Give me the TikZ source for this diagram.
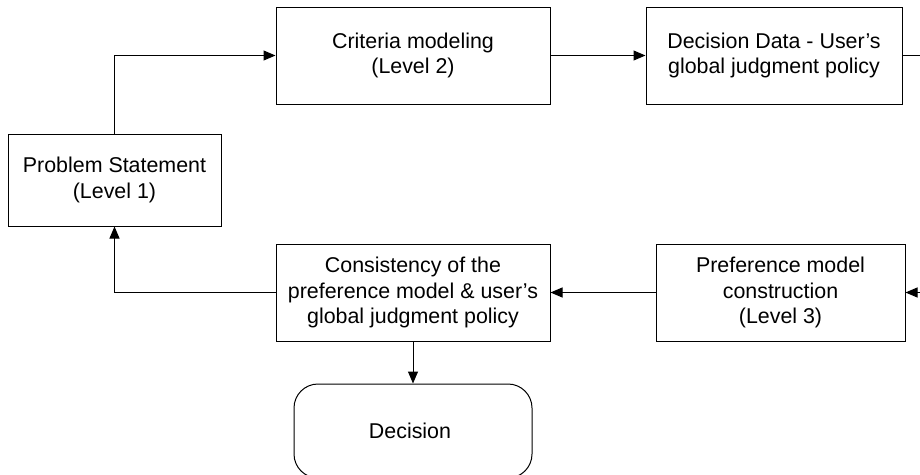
\documentclass[tikz,border=0pt]{standalone}
\usepackage{fontspec}
\setmainfont{Liberation Sans}
\usepackage{tikz}
\usetikzlibrary{positioning,arrows.meta,calc}
\tikzset{
  stage/.style={
    rectangle, draw=black, line width=1pt,
    inner sep=0pt,
    align=center,
    font=\fontsize{21.4}{25.7}\selectfont
  },
  % Stili per le frecce
  flow/.style={-{Triangle[length=12pt,width=10pt]}, line width=1pt},
  link/.style={line width=1pt},
  every node/.style={anchor=center}
}

\begin{document}
\begin{tikzpicture}[x=1pt, y=-1pt]
\useasboundingbox (0,0) rectangle (920,474);

% Livello 1 - problema
\node[stage, minimum width=213pt, minimum height=92pt] (problem) at (114.5,180) {
  Problem Statement\\
  (Level 1)
};

% Riga superiore
\node[stage, minimum width=274pt, minimum height=97pt] (criteria) at (413,55.5) {
  Criteria modeling\\
  (Level 2)
};

\node[stage, minimum width=256pt, minimum height=97pt] (data) at (774,55.5) {
  Decision Data - User’s\\
  global judgment policy
};

% Riga inferiore
\node[stage, minimum width=274pt, minimum height=97pt] (consistency) at (413,292.5) {
  Consistency of the\\
  preference model \& user’s\\
  global judgment policy
};

\node[stage, minimum width=249pt, minimum height=97pt] (preference) at (780.5,292.5) {
  Preference model\\
  construction\\
  (Level 3)
};

% Terminale - decisione (tagliato dal bordo inferiore)
\node[stage, rounded corners=24pt, minimum width=238pt, minimum height=94pt] (decision) at (413,431) {
  Decision
};

% Estremi fuori dal bordo destro
\coordinate (outR) at (920,55.5);
\coordinate (inR) at (920,292.5);

% Relazioni
\draw[flow] (problem.north) |- (criteria.west);
\draw[flow] (criteria) -- (data);
\draw[link] (data.east) -- (outR);
\draw[flow] (inR) -- (preference.east);
\draw[flow] (preference) -- (consistency);
\draw[flow] (consistency.west) -| (problem.south);
\draw[flow] (consistency) -- (decision);

\end{tikzpicture}
\end{document}
